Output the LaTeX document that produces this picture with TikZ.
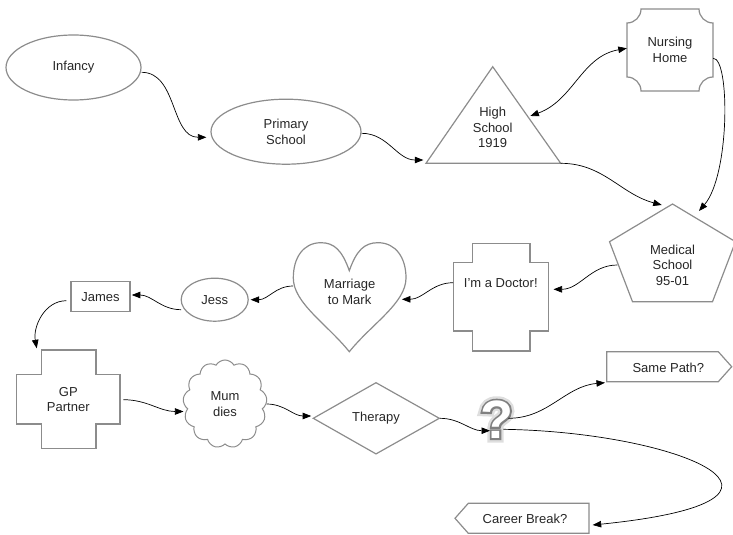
\documentclass[tikz,border=0pt]{standalone}
\usepackage{fontspec}
\setmainfont{Liberation Sans}
% question-mark layers: faked strokes give the grey edge and the soft halo
\newfontfamily\qhalo[FakeBold=16]{Liberation Sans Bold}
\newfontfamily\qedge[FakeBold=7]{Liberation Sans Bold}
\newfontfamily\qface{Liberation Sans Bold}
\usetikzlibrary{arrows.meta,shapes.geometric,shapes.symbols,calc}

\begin{document}
\begin{tikzpicture}[x=1pt,y=1pt,
  every node/.style={font=\fontsize{13}{15.5}\selectfont, text=black!85, align=center, inner sep=0pt},
  outline/.style={draw=black!45, line width=1.2pt, line join=miter},
  ell/.style={outline, ellipse},
  box/.style={outline, rectangle},
  cloudy/.style={outline, line width=1pt, cloud, cloud puffs=13, cloud puff arc=120, cloud ignores aspect, minimum width=84pt, minimum height=88pt},
  qsize/.style={anchor=base},
  >={Triangle[length=8.5pt,width=6.5pt]},
  link/.style={draw=black, line width=0.7pt, ->},
  link2/.style={draw=black, line width=0.7pt, <->}
]
\useasboundingbox (0,0) rectangle (733,-535);

% ---------- shapes ----------
\node[ell, minimum width=135pt, minimum height=65pt] (inf) at (73.5,-67.5) {Infancy};
\node[ell, minimum width=150pt, minimum height=65pt] (prim) at (286,-131.7) {Primary\\School};

% High school triangle
\draw[outline] (492.7,-66.7) coordinate (hs-top) -- (560.7,-163.3) coordinate (hs-right)
  -- (426,-163.3) coordinate (hs-left) -- cycle;
\node (hs) at (492.7,-127.7) {High\\School\\1919};

% Nursing home: box with concave corners
\draw[outline] (641,-9) -- (699,-9) arc[start angle=180, end angle=270, radius=14]
  -- (713,-77) arc[start angle=90, end angle=180, radius=14]
  -- (641,-91) arc[start angle=0, end angle=90, radius=14]
  -- (627,-23) arc[start angle=270, end angle=360, radius=14] -- cycle;
\node[minimum width=86pt, minimum height=82pt] (nh) at (670,-50) {Nursing\\Home};

% Medical school pentagon
\draw[outline] (672.5,-204) coordinate (med-top) -- (735.5,-241.7) -- (712.5,-301.7)
  -- (632.5,-301.7) coordinate (med-bl) -- (609.5,-241.7) coordinate (med-left) -- cycle;
\node[minimum width=126pt] (med) at (672.5,-265) {Medical\\School\\95-01};

% Doctor cross
\draw[outline] (472.7,-243.3) -- (530,-243.3) -- (530,-262.7) -- (548.3,-262.7)
  -- (548.3,-331) -- (530,-331) -- (530,-351) -- (472.7,-351) -- (472.7,-331)
  -- (453.3,-331) -- (453.3,-262.7) -- (472.7,-262.7) -- cycle;
\node[minimum width=95pt] (doc) at (500.8,-282.7) {I’m a Doctor!};

% Heart
\draw[outline] (349.3,-270.7) .. controls (342,-250) and (334,-242.7) .. (321,-242.7)
  .. controls (303,-242.7) and (293.3,-258) .. (293.3,-278)
  .. controls (293.3,-303) and (327,-324) .. (349.3,-351.7)
  .. controls (371.6,-324) and (406,-303) .. (406,-278)
  .. controls (406,-258) and (396,-242.7) .. (378,-242.7)
  .. controls (364.6,-242.7) and (356.6,-250) .. (349.3,-270.7) -- cycle;
\node[minimum width=112.7pt] (heart) at (349.6,-292) {Marriage\\to Mark};

\node[ell, minimum width=67pt, minimum height=43pt] (jess) at (214.7,-299.7) {Jess};
\node[box, minimum width=59pt, minimum height=30pt] (james) at (100.5,-296.7) {James};

% GP cross
\draw[outline] (41.7,-350) coordinate (gp-tl) -- (96,-350) -- (96,-374.3) -- (120,-374.3)
  -- (120,-424) -- (96,-424) -- (96,-448.3) -- (41.7,-448.3) -- (41.7,-424)
  -- (16.7,-424) -- (16.7,-374.3) -- (41.7,-374.3) -- cycle;
\node[minimum width=103.3pt] (gp) at (68.3,-399.7) {GP\\Partner};

\node[cloudy] (mum) at (225,-404) {Mum\\dies};

% Therapy diamond
\draw[outline] (313.3,-418.3) -- (376,-382.7) -- (439.3,-418.3) -- (376,-453.9) -- cycle;
\node[minimum width=126pt] (ther) at (376,-418.3) {Therapy};

% Question mark: halo, grey edge, white face
\node[qsize, font=\qhalo\fontsize{54}{54}\selectfont, text=black!13] (q-halo) at (496.7,-438.3) {?};
\node[qsize, font=\qedge\fontsize{54}{54}\selectfont, text=black!50] (q-edge) at (496.7,-438.3) {?};
\node[qsize, font=\qface\fontsize{54}{54}\selectfont, text=white] (q) at (496.7,-438.3) {?};

% Signal boxes
\draw[outline] (606.7,-351.7) -- (718.3,-351.7) -- (731.7,-366.7) -- (718.3,-381.7)
  -- (606.7,-381.7) coordinate (same-sw) -- cycle;
\node (same) at (668.3,-367.5) {Same Path?};
\draw[outline] (455,-518.3) -- (468.3,-503.3) -- (589,-503.3) -- (589,-518.3) coordinate (career-e)
  -- (589,-533.3) -- (468.3,-533.3) -- cycle;
\node (career) at (525,-518.8) {Career Break?};

% ---------- connectors ----------
\draw[link] ([yshift=-4.8]inf.east) to[out=0,in=180] ([shift={(-4,-5.6)}]prim.west);
\draw[link] ([yshift=-1.6]prim.east) to[out=0,in=180] ([shift={(-2.7,3.3)}]hs-left);
\draw[link2] ($(hs-top)!0.51!(hs-right)+(3,0)$) to[out=20,in=190] ([yshift=1.7]nh.west);
\draw[link] ([yshift=-8.3]nh.east) .. controls (730,-58) and (730,-175) .. ([shift={(26.5,-7)}]med-top);
\draw[link] (hs-right) to[out=0,in=165] ([shift={(-10.8,-1)}]med-top);
\draw[link] ([xshift=8]med.west) to[out=180,in=0] ([shift={(5,-6.6)}]doc.east);
\draw[link] (doc.west) to[out=180,in=0] ([shift={(-4.3,-7.3)}]heart.east);
\draw[link] ([yshift=6]heart.west) to[out=180,in=0] ([xshift=1.8]jess.east);
\draw[link] ([shift={(0.5,-10)}]jess.west) to[out=180,in=0] ([shift={(1.2,1.7)}]james.east);
\draw[link] ([shift={(-4,-4)}]james.west) to[out=180,in=100] ([shift={(-5,1.7)}]gp-tl);
\draw[link] ([xshift=3.3]gp.east) to[out=0,in=180] ([yshift=-7.5]mum.west);
\draw[link] (mum.east) to[out=0,in=180] ([shift={(-1.6,2.3)}]ther.west);
\draw[link] ([xshift=0.7]ther.east) to[out=0,in=180] ([shift={(-6.7,7.6)}]q.base);
\draw[link] ([shift={(11.6,20)}]q.base) to[out=0,in=185] ([shift={(-1.7,-1)}]same-sw);
\draw[link] ([shift={(6.6,9)}]q.base) .. controls (680,-432) and (840,-500) .. ([shift={(3.7,-6.7)}]career-e);
\end{tikzpicture}
\end{document}
